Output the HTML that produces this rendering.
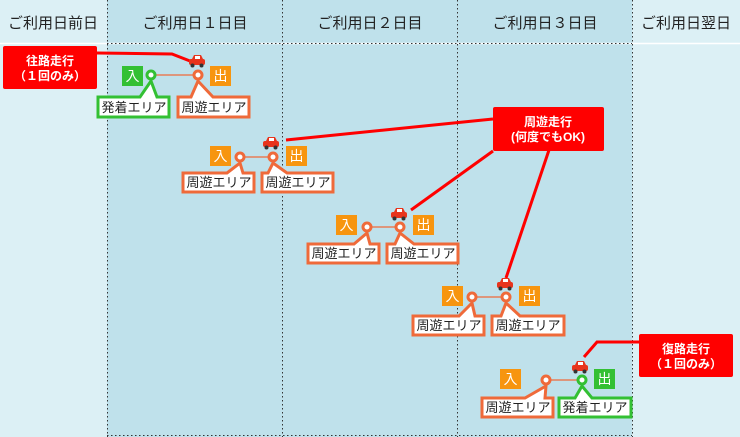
<!DOCTYPE html>
<html><head><meta charset="utf-8"><style>
body{margin:0;background:#fff}
svg{display:block;font-family:"Liberation Sans","Noto Sans CJK JP",sans-serif}
</style></head><body>
<svg width="740" height="437" viewBox="0 0 740 437" xmlns="http://www.w3.org/2000/svg">
<rect x="0" y="0" width="740" height="437" fill="#dcf0f5"/>
<rect x="107" y="0" width="525" height="437" fill="#bfe1eb"/>
<line x1="0" y1="43.5" x2="740" y2="43.5" stroke="#fff" stroke-width="1.5"/>
<g stroke="#333" stroke-width="1" stroke-dasharray="1.5,2.5">
<line x1="107.5" y1="0" x2="107.5" y2="437"/><line x1="282.5" y1="0" x2="282.5" y2="437"/>
<line x1="457.5" y1="0" x2="457.5" y2="437"/><line x1="632.5" y1="0" x2="632.5" y2="437"/>
<line x1="107" y1="43.5" x2="632" y2="43.5"/><line x1="107" y1="435.5" x2="632" y2="435.5"/>
</g>
<g font-size="15" fill="#222" text-anchor="middle">
<text x="53" y="28">ご利用日前日</text><text x="195" y="28">ご利用日１日目</text>
<text x="370" y="28">ご利用日２日目</text><text x="545" y="28">ご利用日３日目</text>
<text x="686" y="28">ご利用日翌日</text>
</g>
<!-- red lines -->
<g stroke="#f00" stroke-width="3" fill="none">
<polyline points="97,53 172,54 190,61"/>
<line x1="493" y1="119" x2="286" y2="140"/>
<line x1="493" y1="151" x2="411" y2="210"/>
<line x1="549" y1="150" x2="506" y2="278"/>
<polyline points="639,342 597,342 584,357"/>
</g>
<g fill="#f00"><rect x="3" y="46" width="94" height="43" rx="2"/><rect x="493" y="107" width="111" height="44" rx="2"/><rect x="639" y="334" width="94" height="43" rx="2"/></g>
<g fill="#fff" font-size="12" font-weight="bold" text-anchor="middle">
<text x="50" y="65">往路走行</text><text x="50" y="80">（１回のみ）</text>
<text x="548" y="126">周遊走行</text><text x="548" y="141">(何度でもOK)</text>
<text x="686" y="353">復路走行</text><text x="686" y="368">（１回のみ）</text>
</g>
<defs>
<g id="car"><rect x="-8" y="-5" width="16" height="6" rx="2" fill="#e8341c"/><path d="M-5,-5 L-3,-9 H4 L6,-5Z" fill="#e8341c"/><rect x="-2" y="-8" width="5" height="3" fill="#fff"/><circle cx="-4.5" cy="1.5" r="2" fill="#333"/><circle cx="4.5" cy="1.5" r="2" fill="#333"/></g>
</defs>
<use href="#car" x="197" y="64"/><use href="#car" x="271" y="146"/><use href="#car" x="399" y="217"/><use href="#car" x="505" y="287"/><use href="#car" x="580" y="370"/>
<!-- connectors -->
<g stroke="#ef6a3a" stroke-width="1.2"><line x1="151" y1="75" x2="198" y2="75"/><line x1="240" y1="157" x2="273" y2="157"/><line x1="367" y1="227" x2="400" y2="227"/><line x1="472" y1="297" x2="506" y2="297"/><line x1="546" y1="380" x2="582" y2="380"/></g>
<!-- callouts -->
<g fill="#fff" stroke-width="3" stroke-linejoin="miter">
<path d="M98,97 H140 L151,81 L157,97 H169 V117 H98Z" stroke="#33c033"/>
<path d="M178,97 H191 L198,81 L213,97 H249 V117 H178Z" stroke="#ef6a3a"/>
<path d="M183,173 H227 L240,163 L243,173 H254 V192 H183Z" stroke="#ef6a3a"/>
<path d="M262,173 H268 L273,163 L287,173 H333 V192 H262Z" stroke="#ef6a3a"/>
<path d="M308,244 H354 L367,233 L370,244 H379 V263 H308Z" stroke="#ef6a3a"/>
<path d="M387,244 H395 L400,233 L414,244 H458 V263 H387Z" stroke="#ef6a3a"/>
<path d="M413,316 H459 L472,303 L475,316 H484 V335 H413Z" stroke="#ef6a3a"/>
<path d="M492,316 H501 L506,303 L520,316 H564 V335 H492Z" stroke="#ef6a3a"/>
<path d="M482,398 H525 L546,386 L545,398 H553 V417 H482Z" stroke="#ef6a3a"/>
<path d="M559,398 H575 L582,386 L592,398 H631 V417 H559Z" stroke="#33c033"/>
</g>
<g font-size="13" fill="#222" text-anchor="middle">
<text x="134" y="112">発着エリア</text><text x="214" y="112">周遊エリア</text>
<text x="219" y="187">周遊エリア</text><text x="298" y="187">周遊エリア</text>
<text x="344" y="258">周遊エリア</text><text x="423" y="258">周遊エリア</text>
<text x="449" y="330">周遊エリア</text><text x="528" y="330">周遊エリア</text>
<text x="518" y="412">周遊エリア</text><text x="595" y="412">発着エリア</text>
</g>
<!-- circles -->
<g fill="#fff" stroke-width="3">
<circle cx="151" cy="75" r="4" stroke="#33c033"/><circle cx="198" cy="75" r="4" stroke="#ef6a3a"/>
<circle cx="240" cy="157" r="4" stroke="#ef6a3a"/><circle cx="273" cy="157" r="4" stroke="#ef6a3a"/>
<circle cx="367" cy="227" r="4" stroke="#ef6a3a"/><circle cx="400" cy="227" r="4" stroke="#ef6a3a"/>
<circle cx="472" cy="297" r="4" stroke="#ef6a3a"/><circle cx="506" cy="297" r="4" stroke="#ef6a3a"/>
<circle cx="546" cy="380" r="4" stroke="#ef6a3a"/><circle cx="582" cy="380" r="4" stroke="#33c033"/>
</g>
<!-- labels -->
<g>
<rect x="122" y="66" width="21" height="20" fill="#33c033"/><rect x="210" y="66" width="21" height="20" fill="#f7950f"/>
<rect x="210" y="146" width="21" height="20" fill="#f7950f"/><rect x="286" y="146" width="21" height="20" fill="#f7950f"/>
<rect x="336" y="215" width="21" height="20" fill="#f7950f"/><rect x="413" y="215" width="21" height="20" fill="#f7950f"/>
<rect x="442" y="286" width="21" height="20" fill="#f7950f"/><rect x="519" y="286" width="21" height="20" fill="#f7950f"/>
<rect x="500" y="369" width="21" height="20" fill="#f7950f"/><rect x="594" y="369" width="21" height="20" fill="#33c033"/>
</g>
<g font-size="14" fill="#fff" text-anchor="middle">
<text x="132.5" y="81">入</text><text x="220.5" y="81">出</text>
<text x="220.5" y="161">入</text><text x="296.5" y="161">出</text>
<text x="346.5" y="230">入</text><text x="423.5" y="230">出</text>
<text x="452.5" y="301">入</text><text x="529.5" y="301">出</text>
<text x="510.5" y="384">入</text><text x="604.5" y="384">出</text>
</g>
</svg>
</body></html>
